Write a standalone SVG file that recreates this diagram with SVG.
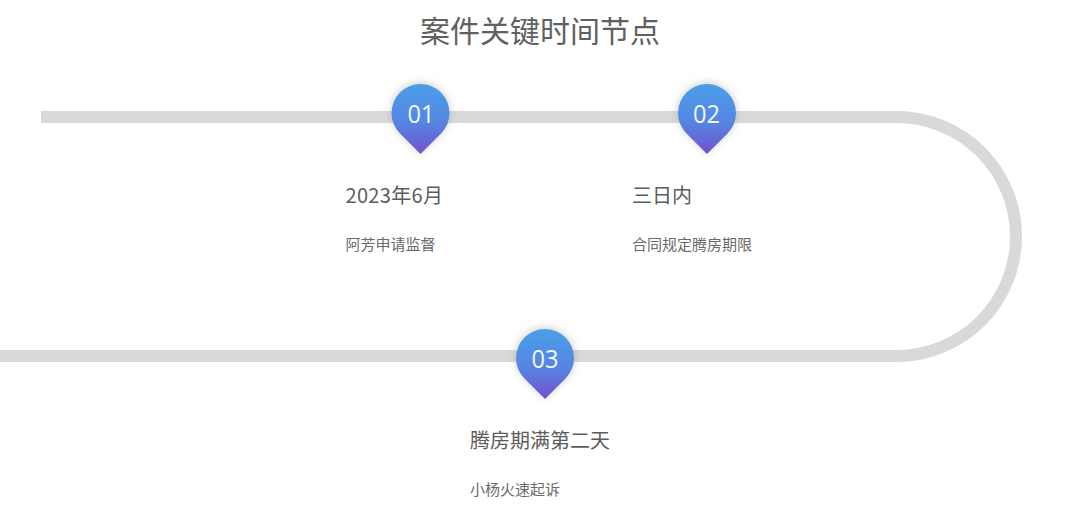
<svg xmlns="http://www.w3.org/2000/svg" width="1080" height="532" viewBox="0 0 1080 532">
<style>
text{font-family:"Noto Sans CJK SC","Open Sans","Noto Sans",sans-serif;fill:#5c5c5c}
.title{font-size:30px;fill:#606060}
.head{font-size:20px}
.sub{font-size:15px;fill:#6a6a6a}
.num{font-family:"Open Sans","Noto Sans",sans-serif;font-size:26px;fill:#f4f8ff;text-anchor:middle}
.track{fill:none;stroke:#d9d9d9;stroke-width:12}
</style>
<defs>
<linearGradient id="g" x1="0" y1="0" x2="0" y2="1"><stop offset="0" stop-color="#4b9fe9"/><stop offset="0.55" stop-color="#5585e2"/><stop offset="1" stop-color="#7450cf"/></linearGradient>
<filter id="s" x="-40%" y="-40%" width="180%" height="180%"><feDropShadow dx="0" dy="-1" stdDeviation="4" flood-color="#808080" flood-opacity="0.4"/></filter>
<path id="pin" d="M0 41 L-20.500 20.500 A29 29 0 1 1 20.500 20.500 Z" fill="url(#g)" filter="url(#s)"/>
</defs>
<rect width="1080" height="532" fill="#fff"/>
<text class="title" x="540" y="42" text-anchor="middle">案件关键时间节点</text>
<g id="connectors"><path class="track" d="M41 117 H896.500 A119.500 119.500 0 0 1 896.500 356 H0"/></g>
<g id="node-01"><use href="#pin" x="420.500" y="113"/><text class="num" x="421" y="123" textLength="27" lengthAdjust="spacingAndGlyphs">01</text>
<text class="head" x="345.500" y="203" textLength="97.500">2023年6月</text><text class="sub" x="345.500" y="250">阿芳申请监督</text></g>
<g id="node-02"><use href="#pin" x="707" y="113"/><text class="num" x="706.500" y="123" textLength="27" lengthAdjust="spacingAndGlyphs">02</text>
<text class="head" x="632" y="203">三日内</text><text class="sub" x="632" y="250">合同规定腾房期限</text></g>
<g id="node-03"><use href="#pin" x="545" y="358"/><text class="num" x="545" y="368" textLength="27" lengthAdjust="spacingAndGlyphs">03</text>
<text class="head" x="470" y="448">腾房期满第二天</text><text class="sub" x="470" y="495">小杨火速起诉</text></g>
</svg>
